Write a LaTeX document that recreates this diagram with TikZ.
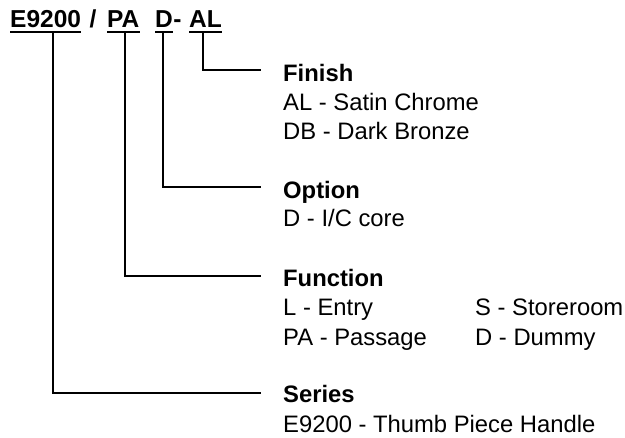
\documentclass[tikz,border=0pt]{standalone}
\usepackage{fontspec}
\setmainfont{Liberation Sans}
\begin{document}
\begin{tikzpicture}[x=1pt,y=-1pt,
  txt/.style={anchor=base west,inner sep=0pt,font=\fontsize{23.8}{29}\selectfont},
  head/.style={txt,font=\fontsize{23.8}{29}\selectfont\bfseries},
  code/.style={anchor=base west,inner sep=0pt,font=\fontsize{24.5}{29}\selectfont\bfseries},
  conn/.style={line width=1.7pt,line cap=rect},
  uline/.style={line width=2pt}]
\useasboundingbox (0,0) rectangle (625,438);
% header code
\node[code] (hE) at (10,28) {E9200};
\node[code] (hS) at (89.5,28) {/};
\node[code] (hP) at (107,28) {PA};
\node[code] (hD) at (155,28) {D};
\node[code] (hM) at (hD.base east) {-};
\node[code] (hA) at (189,28) {AL};
\foreach \n in {hE,hP,hD,hA}
  \draw[uline] ([yshift=-4pt]\n.base west) -- ([yshift=-4pt]\n.base east);
% descriptions
\node[head] (finish) at (283,82) {Finish};
\node[txt] (fin1) at (283,111) {AL - Satin Chrome};
\node[txt] (fin2) at (283,140) {DB - Dark Bronze};
\node[head] (option) at (283,199) {Option};
\node[txt] (opt1) at (283,227) {D - I/C core};
\node[head] (function) at (283,287) {Function};
\node[txt] (fun1) at (283,316) {L - Entry};
\node[txt] (fun2) at (283,346) {PA - Passage};
\node[txt] (fun3) at (475,316) {S - Storeroom};
\node[txt] (fun4) at (475,346) {D - Dummy};
\node[head] (series) at (283,403) {Series};
\node[txt] (ser1) at (283,433) {E9200 - Thumb Piece Handle};
% connector ends
\coordinate (sA) at (203,33);
\coordinate (sD) at (163,33);
\coordinate (sP) at (125,33);
\coordinate (sE) at (53,33);
\coordinate (eF) at (260,70);
\coordinate (eO) at (260,187);
\coordinate (eU) at (260,276);
\coordinate (eS) at (260,393);
\draw[conn] (sA) |- (eF);
\draw[conn] (sD) |- (eO);
\draw[conn] (sP) |- (eU);
\draw[conn] (sE) |- (eS);
\end{tikzpicture}
\end{document}
